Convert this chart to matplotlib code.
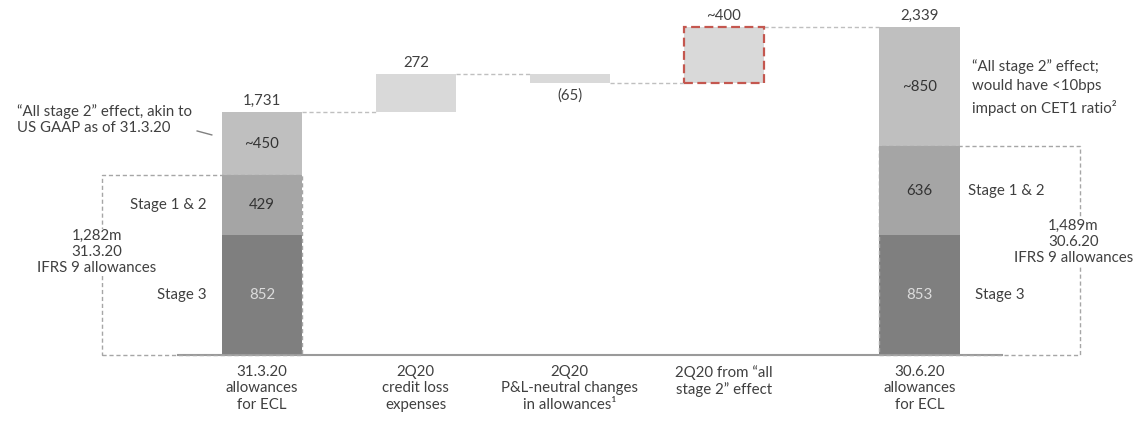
import matplotlib.pyplot as plt
from matplotlib.patches import Rectangle

plt.rcParams['font.family'] = ['Lato', 'DejaVu Sans']

# data
categories = ['31.3.20\nallowances\nfor ECL', '2Q20\ncredit loss\nexpenses',
              '2Q20\nP&L-neutral changes\nin allowances\u00b9',
              '2Q20 from \u201call\nstage 2\u201d effect', '30.6.20\nallowances\nfor ECL']
start_stage3 = 852
start_stage12 = 429
start_allstage2 = 450
end_stage3 = 853
end_stage12 = 636
end_allstage2 = 850
credit_loss = 272
pl_neutral = -65
allstage2_change = 401
ifrs_start = 1282   # reported total (rounding)
ifrs_end = 1489

start_total = start_stage3 + start_stage12 + start_allstage2
end_total = end_stage3 + end_stage12 + end_allstage2

txt = '#404040'
c3 = '#7f7f7f'
c12 = '#a5a5a5'
c2 = '#bfbfbf'
cd = '#d9d9d9'
boxc = '#a6a6a6'

xs = [0, 1, 2, 3, 4.27]
w = 0.52

fig = plt.figure(figsize=(11.39, 4.21), dpi=100)
ax = fig.add_axes([0, 0, 1, 1])
ax.set_xlim(-1.70, 5.695)
ax.set_ylim(-471, 2531)
ax.axis('off')

# stacked start and end bars
ax.bar(xs[0], start_stage3, w, color=c3, zorder=3)
ax.bar(xs[0], start_stage12, w, bottom=start_stage3, color=c12, zorder=3)
ax.bar(xs[0], start_allstage2, w, bottom=start_stage3 + start_stage12, color=c2, zorder=3)
ax.bar(xs[4], end_stage3, w, color=c3, zorder=3)
ax.bar(xs[4], end_stage12, w, bottom=end_stage3, color=c12, zorder=3)
ax.bar(xs[4], end_allstage2, w, bottom=end_stage3 + end_stage12, color=c2, zorder=3)

# floating bars
b1 = start_total
ax.bar(xs[1], credit_loss, w, bottom=b1, color=cd, zorder=3)
b2 = b1 + credit_loss
ax.bar(xs[2], pl_neutral, w, bottom=b2, color=cd, zorder=3)
b3 = b2 + pl_neutral
ax.bar(xs[3], allstage2_change, w, bottom=b3, color=cd, edgecolor='#c4574f',
       linestyle=(0, (4, 2)), linewidth=1.6, zorder=3)
b4 = b3 + allstage2_change

# connectors
conn = dict(color='#bfbfbf', lw=1, ls=(0, (3, 2)), zorder=2)
ax.plot([xs[0] + w/2, xs[1] - w/2], [b1, b1], **conn)
ax.plot([xs[1] + w/2, xs[2] - w/2], [b2, b2], **conn)
ax.plot([xs[2] + w/2, xs[3] - w/2], [b3, b3], **conn)
ax.plot([xs[3] + w/2, xs[4] - w/2], [b4, b4], **conn)

# baseline
ax.plot([xs[0] - 0.545, xs[4] + 0.535], [0, 0], color='#9a9a9a', lw=1.5, zorder=4)

# IFRS 9 dashed boxes
ax.add_patch(Rectangle((xs[0] - 1.04, 0), 1.04 + w/2, start_stage3 + start_stage12, fill=False,
                       edgecolor=boxc, lw=1, ls=(0, (3, 2)), zorder=5))
ax.add_patch(Rectangle((xs[4] - w/2, 0), 1.04 + w/2, end_stage3 + end_stage12, fill=False,
                       edgecolor=boxc, lw=1, ls=(0, (3, 2)), zorder=5))

fs = 10.8
ax.text(xs[0] - 1.07, 734, '{:,}m\n31.3.20\nIFRS 9 allowances'.format(ifrs_start),
        ha='center', va='center', fontsize=fs, color=txt, linespacing=1.22,
        bbox=dict(facecolor='white', edgecolor='none', pad=0), zorder=6)
ax.text(xs[4] + 1.0, 806, '{:,}m\n30.6.20\nIFRS 9 allowances'.format(ifrs_end),
        ha='center', va='center', fontsize=fs, color=txt, linespacing=1.22,
        bbox=dict(facecolor='white', edgecolor='none', pad=0), zorder=6)

# value labels
def top_label(x, y, s, dy):
    ax.annotate(s, (x, y), xytext=(0, dy), textcoords='offset points',
                ha='center', va='bottom' if dy > 0 else 'top', fontsize=fs, color=txt)

top_label(xs[0], b1, '{:,}'.format(start_total), 3)
top_label(xs[1], b2, str(credit_loss), 3)
top_label(xs[2], b3, '({})'.format(-pl_neutral), -4)
top_label(xs[3], b4, '~400', 3)
top_label(xs[4], end_total, '{:,}'.format(end_total), 3)

# segment labels
ax.text(xs[0], start_stage3/2, str(start_stage3), ha='center', va='center', fontsize=fs, color='#dcdcdc', zorder=6)
ax.text(xs[0], start_stage3 + start_stage12/2, str(start_stage12), ha='center', va='center', fontsize=fs, color='#333333', zorder=6)
ax.text(xs[0], start_stage3 + start_stage12 + start_allstage2/2, '~' + str(start_allstage2), ha='center', va='center', fontsize=fs, color='#333333', zorder=6)
ax.text(xs[4], end_stage3/2, str(end_stage3), ha='center', va='center', fontsize=fs, color='#dcdcdc', zorder=6)
ax.text(xs[4], end_stage3 + end_stage12/2, str(end_stage12), ha='center', va='center', fontsize=fs, color='#333333', zorder=6)
ax.text(xs[4], end_stage3 + end_stage12 + end_allstage2/2, '~' + str(end_allstage2), ha='center', va='center', fontsize=fs, color='#333333', zorder=6)

# stage names
ax.annotate('Stage 1 & 2', (xs[0] - w/2, start_stage3 + start_stage12/2), xytext=(-11, 0),
            textcoords='offset points', ha='right', va='center', fontsize=fs, color=txt,
            bbox=dict(facecolor='white', edgecolor='none', pad=1), zorder=6)
ax.annotate('Stage 3', (xs[0] - w/2, start_stage3/2), xytext=(-11, 0),
            textcoords='offset points', ha='right', va='center', fontsize=fs, color=txt)
ax.annotate('Stage 1 & 2', (xs[4] + w/2, end_stage3 + end_stage12/2), xytext=(6, 0),
            textcoords='offset points', ha='left', va='center', fontsize=fs, color=txt)
ax.annotate('Stage 3', (xs[4] + w/2, end_stage3/2), xytext=(11, 0),
            textcoords='offset points', ha='left', va='center', fontsize=fs, color=txt)

# side notes
ax.text(-0.455, 1680, '\u201cAll stage 2\u201d effect, akin to\nUS GAAP as of 31.3.20',
        ha='right', va='center', multialignment='left', fontsize=fs, color=txt, linespacing=1.2)
ax.plot([-0.42, -0.325], [1597, 1569], color='#808080', lw=1)
ax.text(4.61, 1910, '\u201cAll stage 2\u201d effect;\nwould have <10bps\nimpact on CET1 ratio\u00b2',
        ha='left', va='center', fontsize=fs, color=txt, linespacing=1.5)

# category labels
for x, lab in zip(xs, categories):
    ax.annotate(lab, (x, 0), xytext=(0, -7), textcoords='offset points',
                ha='center', va='top', fontsize=fs, color=txt, linespacing=1.22)

fig.savefig('out.png', dpi=100)
